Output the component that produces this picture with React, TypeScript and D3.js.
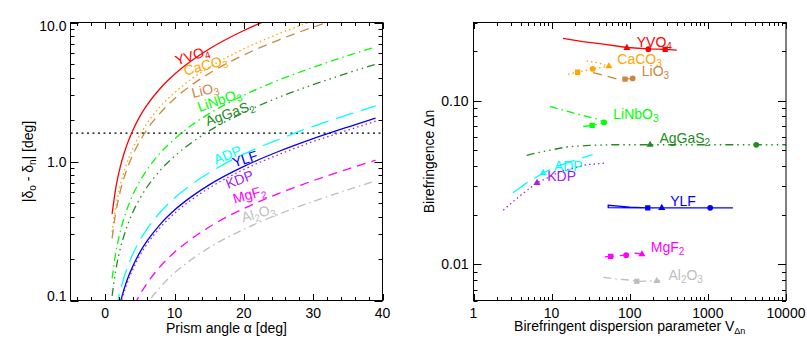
import * as d3 from "d3";

// ---------- left panel: deviation difference vs prism angle ----------
const PRISM_ANGLE = [1, 1.5, 2, 3, 4, 5, 6, 8, 10, 12.5, 15, 20, 25, 30, 35, 39];
const DEV_YVO4 = [0.42, 0.63, 0.84, 1.26, 1.68, 2.11, 2.53, 3.38, 4.24, 5.33, 6.45, 8.76, 11.2, null, null, null];
const DEV_CACO3 = [0.31, 0.465, 0.62, 0.93, 1.24, 1.55, 1.87, 2.5, 3.13, 3.94, 4.76, 6.46, 8.28, 10.25, null, null];
const DEV_LIIO3 = [0.28, 0.42, 0.56, 0.84, 1.12, 1.4, 1.69, 2.25, 2.83, 3.56, 4.3, 5.84, 7.48, 9.26, 11.2, null];
const DEV_LINBO3 = [0.144, 0.216, 0.288, 0.432, 0.577, 0.722, 0.867, 1.16, 1.45, 1.83, 2.21, 3.0, 3.85, 4.76, 5.78, 6.68];
const DEV_AGGAS2 = [0.108, 0.162, 0.216, 0.324, 0.433, 0.541, 0.65, 0.87, 1.09, 1.37, 1.66, 2.25, 2.89, 3.57, 4.33, 5.01];
const DEV_ADP = [0.054, 0.081, 0.108, 0.162, 0.216, 0.271, 0.325, 0.435, 0.546, 0.686, 0.829, 1.13, 1.44, 1.79, 2.17, 2.51];
const DEV_YLF = [0.0442, 0.0663, 0.0884, 0.133, 0.177, 0.222, 0.266, 0.356, 0.447, 0.561, 0.679, 0.922, 1.18, 1.46, 1.77, 2.05];
const DEV_KDP = [0.042, 0.063, 0.084, 0.126, 0.168, 0.211, 0.253, 0.338, 0.424, 0.533, 0.645, 0.876, 1.12, 1.39, 1.68, 1.95];
const DEV_MGF2 = [0.022, 0.033, 0.044, 0.066, 0.088, 0.11, 0.132, 0.177, 0.222, 0.279, 0.338, 0.459, 0.588, 0.728, 0.883, 1.02];
const DEV_AL2O3 = [0.0156, 0.0234, 0.0312, 0.0468, 0.0625, 0.0782, 0.0939, 0.126, 0.158, 0.198, 0.24, 0.325, 0.417, 0.516, 0.626, 0.724];
const DEV_LIMIT = 1.6;

const LEFT_X_TICKS = [0, 10, 20, 30, 40];
const LEFT_Y_TICKS = [0.1, 1, 10];
const LEFT_Y_LABELS = ["0.1", "1.0", "10.0"];

// ---------- right panel: birefringence vs dispersion parameter ----------
const V_YVO4 = [14, 25, 46, 92, 173, 284, 400];
const DN_YVO4 = [0.24, 0.229, 0.221, 0.211, 0.207, 0.2055, 0.2035];
const V_CACO3 = [28, 39, 54, 33.5, 21.5, 16.2];
const DN_CACO3 = [0.175, 0.17, 0.162, 0.156, 0.149, 0.145];
const V_LIIO3 = [34, 50, 71, 87, 109];
const DN_LIIO3 = [0.148, 0.1414, 0.135, 0.1352, 0.1365];
const V_LINBO3 = [9.5, 18.9, 39, 47, 33, 23];
const DN_LINBO3 = [0.092, 0.084, 0.077, 0.0735, 0.0705, 0.069];
const V_AGGAS2 = [4.8, 7, 10, 16, 30, 56, 182, 1000, 4160, 10000];
const DN_AGGAS2 = [0.0463, 0.0483, 0.05, 0.0522, 0.0532, 0.0537, 0.0537, 0.0537, 0.0537, 0.0537];
const V_ADP = [3.2, 4.8, 7.8, 11.6, 20, 33.5];
const DN_ADP = [0.0273, 0.0314, 0.0361, 0.0396, 0.0433, 0.0467];
const V_KDP = [2.4, 3.9, 6.5, 12.8, 28, 51];
const DN_KDP = [0.0214, 0.0261, 0.0314, 0.0368, 0.0406, 0.0416];
const V_YLF = [150, 53, 53, 100, 170, 257, 1070, 2090];
const DN_YLF = [0.0221, 0.0222, 0.0229, 0.0223, 0.0221, 0.0221, 0.0221, 0.0221];
const V_MGF2 = [48, 57, 90, 120, 143, 170];
const DN_MGF2 = [0.0111, 0.01115, 0.01135, 0.0117, 0.0115, 0.0117];
const V_AL2O3 = [46, 70, 100, 123, 180, 222, 245];
const DN_AL2O3 = [0.0083, 0.0081, 0.008, 0.00785, 0.0079, 0.0079, 0.0079];

// markers: [V, dn, symbol]
const MARK_YVO4 = [[92, 0.21, "tri"], [173, 0.206, "circ"], [284, 0.2055, "sq"]];
const MARK_CACO3 = [[54, 0.162, "tri"], [33.5, 0.156, "circ"], [21.5, 0.149, "sq"]];
const MARK_LIIO3 = [[87, 0.1352, "sq"], [109, 0.1365, "circ"]];
const MARK_LINBO3 = [[33, 0.0705, "sq"], [47, 0.0735, "circ"]];
const MARK_AGGAS2 = [[182, 0.0537, "tri"], [4160, 0.0537, "circ"]];
const MARK_ADP = [[7.8, 0.0361, "tri"]];
const MARK_KDP = [[6.5, 0.0314, "tri"]];
const MARK_YLF = [[170, 0.0221, "sq"], [257, 0.0221, "tri"], [1070, 0.0221, "circ"]];
const MARK_MGF2 = [[57, 0.01115, "sq"], [90, 0.01135, "circ"], [143, 0.0115, "tri"]];
const MARK_AL2O3 = [[123, 0.00785, "sq"], [222, 0.0079, "tri"]];

const RIGHT_X_TICKS = [1, 10, 100, 1000, 10000];
const RIGHT_X_LABELS = ["1", "10", "100", "1000", "10000"];
const RIGHT_Y_TICKS = [0.01, 0.1];
const RIGHT_Y_LABELS = ["0.01", "0.10"];

// ---------- layout ----------
const W = 807;
const H = 346;
const LP = { x0: 70.5, x1: 382.5, y0: 22.5, y1: 300.5 };
const RP = { x0: 473.5, x1: 786, y0: 22.5, y1: 300.5 };
const FONT = "'Liberation Sans', Arial, Helvetica, sans-serif";

const DASH: Record<string, string | undefined> = {
  solid: undefined,
  dot: "1.5 3",
  dash: "9 6",
  dashdot: "8 4 1.5 4",
  dashdot3: "8 4 1.5 4 1.5 4 1.5 4",
  longdash: "18 8",
};

// label parts alternate normal / subscript
const MATERIALS = [
  { label: ["YVO", "4"], color: "#ff0000", style: "solid", dev: DEV_YVO4, v: V_YVO4, dn: DN_YVO4, marks: MARK_YVO4, lpos: [10.35, 4.9, -18], rpos: [123, 0.2133] },
  { label: ["CaCO", "3"], color: "#ffa500", style: "dot", dev: DEV_CACO3, v: V_CACO3, dn: DN_CACO3, marks: MARK_CACO3, lpos: [11.54, 4.14, -15], rpos: [69.3, 0.1673] },
  { label: ["LiO", "3"], color: "#cd853f", style: "dash", dev: DEV_LIIO3, v: V_LIIO3, dn: DN_LIIO3, marks: MARK_LIIO3, lpos: [12.66, 2.86, -14], rpos: [142.6, 0.1413] },
  { label: ["LiNbO", "3"], color: "#00ff00", style: "dashdot", dev: DEV_LINBO3, v: V_LINBO3, dn: DN_LINBO3, marks: MARK_LINBO3, lpos: [13.6, 2.27, -19], rpos: [61.6, 0.077] },
  { label: ["AgGaS", "2"], color: "#228b22", style: "dashdot3", dev: DEV_AGGAS2, v: V_AGGAS2, dn: DN_AGGAS2, marks: MARK_AGGAS2, lpos: [14.76, 1.79, -20], rpos: [240, 0.0553] },
  { label: ["ADP"], color: "#00ffff", style: "longdash", dev: DEV_ADP, v: V_ADP, dn: DN_ADP, marks: MARK_ADP, lpos: [15.97, 0.947, -22], rpos: [10.7, 0.037] },
  { label: ["YLF"], color: "#0000ff", style: "solid", dev: DEV_YLF, v: V_YLF, dn: DN_YLF, marks: MARK_YLF, lpos: [18.6, 0.905, -18], rpos: [329, 0.02264] },
  { label: ["KDP"], color: "#a020f0", style: "dot", dev: DEV_KDP, v: V_KDP, dn: DN_KDP, marks: MARK_KDP, lpos: [17.7, 0.633, -21], rpos: [8.78, 0.0323] },
  { label: ["MgF", "2"], color: "#ff00ff", style: "dash", dev: DEV_MGF2, v: V_MGF2, dn: DN_MGF2, marks: MARK_MGF2, lpos: [18.66, 0.496, -16], rpos: [186, 0.01189] },
  { label: ["Al", "2", "O", "3"], color: "#bebebe", style: "dashdot", dev: DEV_AL2O3, v: V_AL2O3, dn: DN_AL2O3, marks: MARK_AL2O3, lpos: [19.87, 0.364, -16], rpos: [313, 0.00802] },
];

const SYMBOLS: Record<string, string> = {
  tri: d3.symbol().type(d3.symbolTriangle).size(22)() as string,
  circ: d3.symbol().type(d3.symbolCircle).size(26)() as string,
  sq: d3.symbol().type(d3.symbolSquare).size(28)() as string,
};

function Chem({ parts }: { parts: string[] }) {
  return (
    <>
      {parts.map((p, i) =>
        i % 2 === 1 ? (
          <tspan key={i} fontSize={10} dy={3}>{p}</tspan>
        ) : (
          <tspan key={i} dy={i > 0 ? -3 : 0}>{p}</tspan>
        )
      )}
    </>
  );
}

function Ticks({ box, xs, xMajor, ys, yMajor }: any) {
  const XL = [3.5, 6.5];
  const YL = [4, 8];
  const out: any[] = [];
  xs.forEach((t: any, i: number) => {
    const x = Math.round(t.px) + 0.5;
    const len = xMajor(t.v) ? XL[1] : XL[0];
    out.push(<line key={"xb" + i} x1={x} x2={x} y1={box.y1} y2={box.y1 - len} />);
    out.push(<line key={"xt" + i} x1={x} x2={x} y1={box.y0} y2={box.y0 + len} />);
  });
  ys.forEach((t: any, i: number) => {
    const y = Math.round(t.py) + 0.5;
    const len = yMajor(t.v) ? YL[1] : YL[0];
    out.push(<line key={"yl" + i} x1={box.x0} x2={box.x0 + len} y1={y} y2={y} />);
    out.push(<line key={"yr" + i} x1={box.x1} x2={box.x1 - len} y1={y} y2={y} />);
  });
  return <g stroke="#000" strokeWidth={1}>{out}</g>;
}

export default function App() {
  const lx = d3.scaleLinear().domain([-5, 40]).range([LP.x0, LP.x1]);
  const ly = d3.scaleLog().domain([0.1, 10]).range([LP.y1, LP.y0]);
  const rx = d3.scaleLog().domain([1, 10000]).range([RP.x0, RP.x1]);
  const ry = d3.scaleLog().domain([0.006, 0.3]).range([RP.y1, RP.y0]);

  const devLine = d3
    .line<[number, number | null]>()
    .defined((d) => d[1] != null)
    .x((d) => lx(d[0]))
    .y((d) => ly(d[1] as number))
    .curve(d3.curveMonotoneX);
  const dnLine = d3
    .line<[number, number]>()
    .x((d) => rx(d[0]))
    .y((d) => ry(d[1]));

  const lxTicks = lx.ticks(22).map((v) => ({ v, px: lx(v) }));
  const lyTicks = ly.ticks().map((v) => ({ v, py: ly(v) }));
  const rxTicks = rx.ticks().map((v) => ({ v, px: rx(v) }));
  const ryTicks = ry.ticks().map((v) => ({ v, py: ry(v) }));
  const isDecade = (v: number) => Math.abs(Math.log10(v) - Math.round(Math.log10(v))) < 1e-6;

  const yLabelBase = (py: number, box: any) => Math.min(Math.max(py + 5, box.y0 + 8), box.y1);

  return (
    <svg
      width={W}
      height={H}
      style={{ position: "absolute", left: 0, top: 0, background: "#fff" }}
      fontFamily={FONT}
      fontSize={14}
    >
      <defs>
        <clipPath id="clipL">
          <rect x={LP.x0} y={LP.y0} width={LP.x1 - LP.x0} height={LP.y1 - LP.y0} />
        </clipPath>
        <clipPath id="clipR">
          <rect x={RP.x0} y={RP.y0} width={RP.x1 - RP.x0} height={RP.y1 - RP.y0} />
        </clipPath>
      </defs>

      {/* ---------- left panel ---------- */}
      <g clipPath="url(#clipL)">
        <line
          x1={LP.x0}
          x2={LP.x1}
          y1={ly(DEV_LIMIT)}
          y2={ly(DEV_LIMIT)}
          stroke="#000"
          strokeWidth={1.2}
          strokeDasharray="2 3.5"
        />
        {MATERIALS.map((m, i) => (
          <path
            key={i}
            d={devLine(PRISM_ANGLE.map((a, j) => [a, m.dev[j]]) as any) || ""}
            fill="none"
            stroke={m.color}
            strokeWidth={1.3}
            strokeDasharray={DASH[m.style]}
          />
        ))}
      </g>
      {MATERIALS.map((m, i) => (
        <text
          key={i}
          transform={`translate(${lx(m.lpos[0])},${ly(m.lpos[1])}) rotate(${m.lpos[2]})`}
          fill={m.color}
        >
          <Chem parts={m.label} />
        </text>
      ))}
      <Ticks box={LP} xs={lxTicks} xMajor={(v: number) => v % 10 === 0} ys={lyTicks} yMajor={isDecade} />
      <rect x={LP.x0} y={LP.y0} width={LP.x1 - LP.x0} height={LP.y1 - LP.y0} fill="none" stroke="#000" />
      {LEFT_X_TICKS.map((t) => (
        <text key={t} x={lx(t)} y={318} textAnchor="middle">{t}</text>
      ))}
      {LEFT_Y_TICKS.map((t, i) => (
        <text key={t} x={LP.x0 - 4} y={yLabelBase(ly(t), LP)} textAnchor="end">{LEFT_Y_LABELS[i]}</text>
      ))}
      <text x={(LP.x0 + LP.x1) / 2} y={333} textAnchor="middle">Prism angle α [deg]</text>
      <text transform={`translate(33,${(LP.y0 + LP.y1) / 2}) rotate(-90)`} textAnchor="middle">
        |δ<tspan fontSize={10} dy={3}>o</tspan>
        <tspan dy={-3}> - δ</tspan>
        <tspan fontSize={10} dy={3}>n</tspan>
        <tspan dy={-3}>| [deg]</tspan>
      </text>

      {/* ---------- right panel ---------- */}
      <g clipPath="url(#clipR)">
        {MATERIALS.map((m, i) => (
          <g key={i}>
            <path
              d={dnLine(m.v.map((v, j) => [v, m.dn[j]]) as any) || ""}
              fill="none"
              stroke={m.color}
              strokeWidth={1.3}
              strokeDasharray={DASH[m.style]}
            />
            {m.marks.map((k: any, j: number) => (
              <path key={j} d={SYMBOLS[k[2]]} transform={`translate(${rx(k[0])},${ry(k[1])})`} fill={m.color} />
            ))}
          </g>
        ))}
      </g>
      {MATERIALS.map((m, i) => (
        <text key={i} x={rx(m.rpos[0])} y={ry(m.rpos[1])} fill={m.color}>
          <Chem parts={m.label} />
        </text>
      ))}
      <Ticks box={RP} xs={rxTicks} xMajor={isDecade} ys={ryTicks} yMajor={isDecade} />
      <rect x={RP.x0} y={RP.y0} width={RP.x1 - RP.x0} height={RP.y1 - RP.y0} fill="none" stroke="#000" />
      {RIGHT_X_TICKS.map((t, i) => (
        <text key={t} x={rx(t)} y={318} textAnchor="middle">{RIGHT_X_LABELS[i]}</text>
      ))}
      {RIGHT_Y_TICKS.map((t, i) => (
        <text key={t} x={RP.x0 - 5} y={yLabelBase(ry(t), RP)} textAnchor="end">{RIGHT_Y_LABELS[i]}</text>
      ))}
      <text x={(RP.x0 + RP.x1) / 2} y={331} textAnchor="middle">
        Birefringent dispersion parameter V<tspan fontSize={9} dy={3}>Δn</tspan>
      </text>
      <text transform={`translate(434,${(RP.y0 + RP.y1) / 2}) rotate(-90)`} textAnchor="middle">
        Birefringence Δn
      </text>
    </svg>
  );
}
